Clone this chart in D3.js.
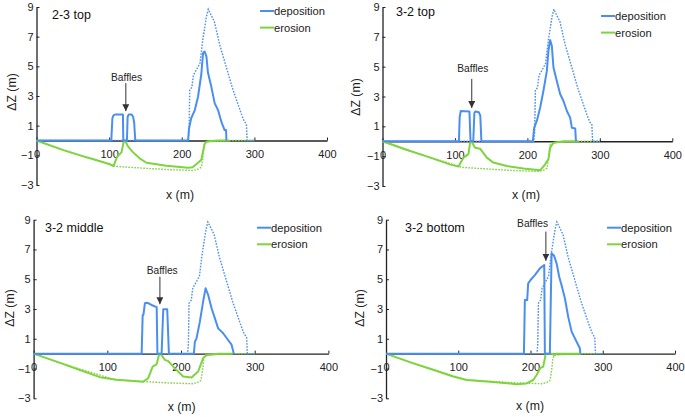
<!DOCTYPE html>
<html><head><meta charset="utf-8">
<script src="https://cdn.jsdelivr.net/npm/d3@7"></script>
<style>body{margin:0;background:#fff} svg{display:block;font-family:"Liberation Sans",Arial,sans-serif}</style>
</head><body><svg id="c" width="685" height="417"></svg>
<script>
const xTicks=[0,100,200,300,400];
const yTicks=[9,7,5,3,1,-1,-3];
const panelTitles=["2-3 top","3-2 top","3-2 middle","3-2 bottom"];
const seriesNames=["deposition","erosion"];
const annotationText="Baffles";

// without baffles (dotted), same in every panel
const noBaffleDep=[[0,0],[209,0],[210,0.6],[211,3.4],[214,3.6],[216,4.4],[220,4.75],[225,5.2],[229,6.8],[234,8.35],[236.5,8.85],[239.5,8.55],[245,8.0],[252,6.5],[261,5.0],[270,3.5],[282,1.8],[286,1.3],[289,1.1],[290,0],[300,0]];
const noBaffleEro=[[0,0],[35,-0.6],[60,-1.0],[83,-1.33],[100,-1.6],[110,-1.75],[145,-1.86],[180,-1.96],[215,-2.02],[222,-1.95],[227,-1.8],[229,-1.2],[231,-0.3],[233,-0.1],[250,-0.05],[270,0],[300,0]];

// with baffles (solid)
const dep1=[[0,0],[103,0],[104.5,1.5],[106,1.7],[108,1.75],[119,1.75],[119.5,0],[124.5,0],[125.5,1.6],[127,1.75],[131,1.75],[133,1.6],[134.5,1.2],[136,0],[208.7,0],[210,0.8],[213,1.5],[218,2.05],[222.4,2.95],[227,4.5],[229.3,5.9],[231.5,6.0],[234,5.65],[236,4.6],[240.8,3.6],[245.4,2.5],[250,2.05],[254.6,1.25],[259,0.7],[261,0.7],[261.5,0]];
const ero1=[[0,0],[37,-0.65],[60,-1.0],[83,-1.33],[101,-1.6],[106,-1.72],[111,-1.1],[117,-0.8],[120,-0.1],[122,0],[124,-0.2],[126,-0.4],[133,-0.8],[142,-1.2],[151.5,-1.5],[179,-1.7],[208.7,-1.83],[215,-1.8],[220,-1.6],[227,-1.3],[229,-0.8],[231.6,-0.2],[236,-0.05],[250,0],[266,0]];
const dep2=[[0,0],[105.5,0],[106.5,1.6],[108,2.03],[120,2.0],[121.5,0],[125.3,0],[126.8,1.9],[128,2.0],[133,1.95],[135,1.7],[136.5,0],[207.5,0],[209.3,0.9],[213,1.36],[217.6,2.25],[222.2,3.4],[226.8,4.7],[229,6.05],[231.4,6.78],[233.7,6.4],[236,4.94],[240.5,4.05],[245.3,3.15],[249.8,2.7],[254.5,2.03],[259,1.58],[261.4,0.9],[266,0.85],[267,0]];
const ero2=[[0,0],[35,-0.6],[60,-1.0],[93,-1.55],[104.8,-1.7],[111.7,-1.1],[118.6,-0.86],[121,-0.07],[123,0],[125,-0.2],[127.8,-0.43],[134.7,-0.5],[144,-1.1],[153,-1.43],[171.6,-1.66],[194.5,-1.82],[217.6,-1.95],[224.5,-1.55],[229,-1.2],[231.4,-0.43],[236,-0.1],[250,0],[270,0]];
const dep3=[[0,0],[146.6,0],[148,2.6],[149,2.6],[151,3.38],[154.2,3.42],[160,3.27],[163.3,3.2],[167,3.13],[168,0],[173.7,0],[175.9,2.98],[181.3,2.98],[183.6,0],[217.5,0],[218.8,0.8],[221.1,1.03],[225.6,2.15],[230,3.5],[233.4,4.39],[236.9,3.94],[241.5,3.05],[246,2.37],[250.4,1.7],[257.2,1.37],[262.6,1.0],[268.6,0.6],[271.7,0]];
const ero3=[[0,0],[35,-0.6],[60,-1.05],[90,-1.58],[112.7,-1.76],[148.8,-1.88],[155.5,-1.65],[161.5,-0.87],[166.9,-0.72],[170.5,0],[172,0],[178.2,-0.42],[182.7,-0.5],[189.4,-0.87],[202.9,-1.54],[214.3,-1.6],[223.3,-1.2],[230,-0.3],[234.6,-0.1],[250,0],[270,0]];
const dep4=[[0,0],[190.9,0],[192.2,3.6],[195.4,3.6],[196.8,4.72],[200.1,4.95],[206,5.28],[213,5.73],[219,5.96],[219.9,0],[226.8,0],[229.2,6.74],[232.4,6.6],[236.1,6.07],[239.7,5.17],[243,4.6],[247.6,3.72],[252.2,2.48],[256.9,1.48],[263.8,0.8],[268.3,0.36],[269,0]];
const ero4=[[0,0],[35,-0.6],[60,-1.0],[93,-1.54],[111.6,-1.77],[143.8,-1.88],[180.8,-2.05],[194.6,-2.0],[203.8,-1.77],[208.5,-1.43],[213.3,-0.98],[217.6,-0.87],[220,-0.3],[221,0],[230,0],[233,-0.1],[236,0],[270,0]];
const depSeries=[dep1,dep2,dep3,dep4];
const eroSeries=[ero1,ero2,ero3,ero4];
// annotation anchors in data units: arrow x, arrow top, arrow tip, label x, label y
const baffleArrows=[[123,3.87,1.98,124,4.28],[123.2,4.18,2.23,124.6,4.85],[171.4,5.17,3.32,174.5,5.6],[221.3,8.2,6.24,202.9,8.76]];

const BLUE="#4a8ff0", GREEN="#7dd43f";
const layout=[
 {l:36.5,r:327,t:7,b:185,title:[52,15],leg:[260,11],ylab:[12,92],xlab:[180,195]},
 {l:382.5,r:672.3,t:7,b:186,title:[396,12.3],leg:[601,16],ylab:[356,97],xlab:[526,195]},
 {l:33.6,r:328.4,t:219.7,b:398.3,title:[45,227.7],leg:[257,227.7],ylab:[10,308],xlab:[181.7,406.5]},
 {l:386,r:675,t:219.7,b:398.3,title:[405,227.7],leg:[607,227.7],ylab:[360,308],xlab:[530,406]}
];

const svg=d3.select("#c");
svg.append("defs").append("marker").attr("id","ah").attr("viewBox","0 0 10 10")
 .attr("refX",10).attr("refY",5).attr("markerWidth",7).attr("markerHeight",7)
 .attr("markerUnits","userSpaceOnUse").attr("orient","auto")
 .append("path").attr("d","M0,0L10,5L0,10z").attr("fill","#333");

layout.forEach((L,i)=>{
  const x=d3.scaleLinear().domain([0,400]).range([L.l,L.r]);
  const y=d3.scaleLinear().domain([-3,9]).range([L.b,L.t]);
  const g=svg.append("g");
  const line=d3.line().x(d=>x(d[0])).y(d=>y(d[1]));

  // x axis at zero
  const xa=g.append("g").attr("transform",`translate(0,${y(0)})`)
   .call(d3.axisBottom(x).tickValues(xTicks).tickSizeInner(-3).tickSizeOuter(0).tickPadding(10));
  xa.select(".domain").attr("stroke","#222").attr("stroke-width",1.3);
  xa.selectAll(".tick line").attr("stroke","#222");
  xa.selectAll("text").attr("font-size",11).attr("fill","#222").attr("font-family","Liberation Sans, Arial");

  const ya=g.append("g").attr("transform",`translate(${x(0)},0)`)
   .call(d3.axisLeft(y).tickValues(yTicks).tickSizeInner(-3).tickSizeOuter(0).tickPadding(3).tickFormat(d3.format("d")));
  ya.select(".domain").attr("stroke","#222").attr("stroke-width",1.3);
  ya.selectAll(".tick line").attr("stroke","#222");
  ya.selectAll("text").attr("font-size",11).attr("fill","#222").attr("font-family","Liberation Sans, Arial");

  // dotted (without baffles)
  g.append("path").datum(noBaffleEro).attr("d",line).attr("fill","none").attr("stroke",GREEN).attr("stroke-width",1.4).attr("stroke-dasharray","1.6,1.4");
  g.append("path").datum(noBaffleDep).attr("d",line).attr("fill","none").attr("stroke",BLUE).attr("stroke-width",1.4).attr("stroke-dasharray","1.6,1.4");
  // solid
  g.append("path").datum(eroSeries[i]).attr("d",line).attr("fill","none").attr("stroke",GREEN).attr("stroke-width",2).attr("stroke-linejoin","round");
  g.append("path").datum(depSeries[i]).attr("d",line).attr("fill","none").attr("stroke",BLUE).attr("stroke-width",2).attr("stroke-linejoin","round");

  // title
  g.append("text").attr("x",L.title[0]).attr("y",L.title[1]).attr("dominant-baseline","central")
   .attr("font-size",12.5).attr("fill","#111").text(panelTitles[i]);
  // legend
  [BLUE,GREEN].forEach((c,k)=>{
    const ly=L.leg[1]+k*16.6;
    g.append("line").attr("x1",L.leg[0]).attr("x2",L.leg[0]+14).attr("y1",ly).attr("y2",ly).attr("stroke",c).attr("stroke-width",2);
    g.append("text").attr("x",L.leg[0]+14).attr("y",ly).attr("dominant-baseline","central").attr("font-size",11.2).attr("fill","#222").text(seriesNames[k]);
  });
  // axis labels
  g.append("text").attr("transform",`translate(${L.ylab[0]},${L.ylab[1]}) rotate(-90)`).attr("text-anchor","middle")
   .attr("dominant-baseline","central").attr("font-size",12.3).attr("fill","#222").text("ΔZ (m)");
  g.append("text").attr("x",L.xlab[0]).attr("y",L.xlab[1]).attr("text-anchor","middle")
   .attr("dominant-baseline","central").attr("font-size",12.3).attr("fill","#222").text("x (m)");
  // baffles annotation
  const a=baffleArrows[i];
  g.append("line").attr("x1",x(a[0])).attr("x2",x(a[0])).attr("y1",y(a[1])).attr("y2",y(a[2]))
   .attr("stroke","#333").attr("stroke-width",1).attr("marker-end","url(#ah)");
  g.append("text").attr("x",x(a[3])).attr("y",y(a[4])).attr("text-anchor","middle").attr("dominant-baseline","central")
   .attr("font-size",10.2).attr("fill","#222").text(annotationText);
});
</script></body></html>
